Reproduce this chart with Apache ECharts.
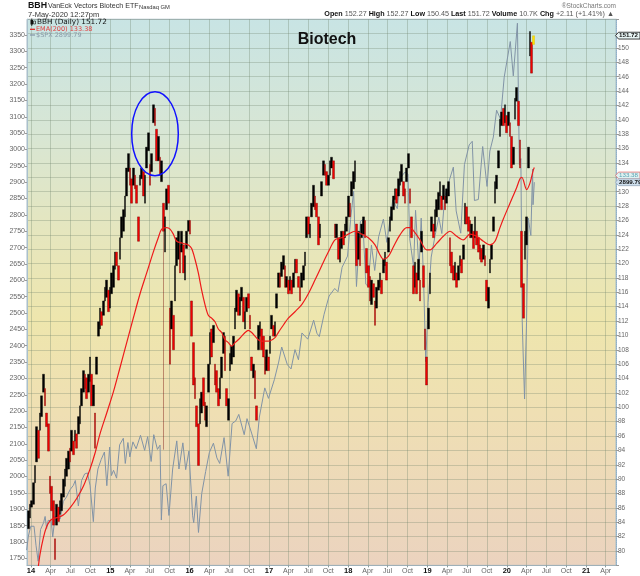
<!DOCTYPE html>
<html><head><meta charset="utf-8">
<script src="https://cdn.jsdelivr.net/npm/echarts@6/dist/echarts.min.js"></script>
<style>html,body{margin:0;padding:0;background:#fff}#c{width:640px;height:576px}</style>
</head><body><div id="c"></div>
<script>
// ---- BBH candles: one sample every ~7.7 days, starting mid-Dec 2013 (decimal years) ----
const bbhStart = 2013.966;
const bbhStep = 0.021017;
// [open, close] per sample
const bbhOpenClose = [
[83.1,85.6],[84.6,86.5],[86.1,87.0],[86.5,89.5],[89.5,91.9],[92.4,97.3],[96.8,92.9],[96.8,99.2],[98.7,101.6],[102.1,104.6],
[102.6,100.2],[99.2,97.3],[97.7,93.9],[90.4,88.0],[89.0,85.6],[87.0,83.6],[81.7,78.8],[83.6,86.5],[86.1,84.1],[85.1,87.0],
[85.6,88.0],[87.5,90.0],[89.0,91.4],[90.4,92.9],[91.4,93.9],[94.3,92.4],[93.9,96.8],[95.3,93.4],[95.3,96.8],[96.3,94.3],
[96.3,98.7],[97.7,100.2],[100.2,102.6],[102.1,105.1],[104.6,102.6],[104.1,101.2],[102.1,104.6],[103.6,107.0],[104.6,100.2],[100.2,103.1],
[99.2,94.3],[104.6,107.0],[109.9,111.9],[110.9,113.8],[113.3,111.4],[112.8,114.8],[114.8,116.7],[115.3,117.7],[116.3,113.3],[113.8,116.7],
[115.8,118.7],[116.7,119.7],[119.2,121.6],[121.6,119.7],[119.7,117.7],[120.6,123.6],[123.6,126.5],[124.5,127.5],[126.5,129.4],[129.4,133.3],
[132.8,135.3],[133.3,130.9],[131.8,128.4],[130.9,133.3],[132.3,130.4],[130.9,128.4],[126.5,123.1],[130.9,132.3],[131.8,133.3],[132.8,129.4],
[128.4,132.3],[133.3,136.2],[135.7,138.2],[133.8,130.9],[132.8,135.3],[139.6,142.1],[141.6,139.2],[138.7,134.3],[134.3,137.7],[134.8,132.3],
[131.4,134.3],[128.4,124.5],[121.6,126.5],[127.5,130.4],[130.9,128.4],[113.8,106.0],[110.9,114.8],[112.8,108.0],[114.8,119.7],[119.7,123.6],
[120.6,124.5],[122.6,118.7],[121.6,124.5],[122.6,118.7],[117.7,121.1],[122.1,124.5],[124.5,126.0],[126.0,124.1],[114.8,109.9],[109.0,103.1],
[104.1,101.2],[100.2,97.3],[97.7,91.9],
[97.7,101.2],[99.2,102.1],[104.1,100.2],[100.7,98.2],[97.3,100.2],[102.1,106.0],[106.0,110.4],[110.9,107.0],[109.0,111.4],[106.0,103.1],
[105.1,102.1],[102.6,100.2],[101.2,104.1],[104.1,107.0],[107.5,110.4],[109.9,105.1],[102.6,100.2],[98.2,101.2],[105.1,107.5],[106.0,108.5],
[107.0,109.9],[110.9,113.8],[113.3,116.3],[115.8,112.8],[112.8,115.3],[114.8,116.7],[115.3,111.9],[110.9,113.3],[113.3,115.3],[115.8,113.8],
[112.8,110.9],[107.0,105.1],[104.1,106.0],[105.1,101.2],[100.2,98.2],[108.0,111.4],[109.9,111.9],[110.9,108.0],[109.9,107.0],[107.0,104.6],
[105.1,108.0],[107.0,105.1],[107.5,109.9],[110.9,112.8],[111.4,109.9],[109.9,111.9],[113.8,115.8],[116.7,118.7],[118.7,116.7],[118.2,120.2],
[119.2,121.1],[119.7,116.7],[116.7,118.2],[117.7,115.8],[116.3,118.2],[117.7,115.8],[116.7,118.7],[118.7,120.6],[120.6,118.7],[118.2,116.7],
[116.7,114.8],[116.7,118.7],[117.7,119.7],[119.7,121.6],[123.6,126.5],[126.5,124.1],[123.6,125.5],[126.5,128.4],[127.9,130.9],[129.4,127.5],
[128.4,126.5],[126.5,122.6],[123.6,125.5],[129.4,131.4],[132.3,134.3],[133.8,132.3],[132.8,130.9],[130.9,132.3],[132.3,134.3],[133.3,134.8],
[134.3,131.8],[125.5,123.6],[123.6,125.5],[123.6,120.6],[120.2,123.6],[122.1,124.5],[124.5,122.6],[123.6,125.5],[124.5,126.5],[126.5,129.4],
[128.4,126.5],[129.4,131.4],[130.4,132.8],[131.4,134.3],[125.5,119.7],[120.6,124.5],[123.6,119.7],[123.6,125.5],[124.1,126.5],[126.0,123.6],
[122.1,118.7],[119.7,116.7],[118.2,114.8],[114.3,117.7],[117.2,115.3],
[114.8,111.4],[113.8,116.7],[116.3,117.7],[116.7,118.7],[117.7,115.8],[118.7,120.6],[119.7,121.6],[120.2,117.7],[121.6,123.6],[124.5,126.5],
[126.0,127.9],[127.5,129.4],[128.9,130.4],[130.4,128.4],[129.4,131.8],[130.9,132.8],[131.4,133.8],[131.4,129.4],[130.4,128.4],[131.4,133.3],
[133.3,135.3],[130.4,128.4],[126.5,123.6],[119.7,115.8],[116.7,120.2],[118.7,115.8],[117.7,120.6],[117.7,114.8],[121.6,124.5],[119.7,116.7],
[110.9,108.0],[107.0,103.1],[110.9,113.8],[115.8,118.7],[124.5,126.5],[125.5,123.6],[124.5,127.5],[126.5,128.9],[127.5,129.9],[129.4,131.4],
[129.4,127.5],[128.9,130.9],[129.4,127.5],[128.4,130.4],[129.4,131.4],[123.6,119.7],[121.6,118.7],[119.7,117.7],[117.7,120.2],[118.7,116.7],
[117.7,119.7],[119.7,121.1],[120.6,118.7],[120.6,122.6],[125.5,128.4],[127.9,125.5],[126.5,124.5],[126.0,123.6],[123.6,125.5],[124.5,122.1],
[123.6,126.5],[124.5,122.6],[123.6,121.6],[122.6,120.6],[122.1,120.2],[120.6,122.6],[121.1,119.7],[117.7,114.8],[113.8,116.7],[118.7,120.6],
[120.6,122.6],[124.5,126.5],[128.4,131.4],[130.4,132.3],[133.3,135.7],[137.7,140.1],[139.2,141.1],[141.6,139.2],[139.6,142.1],[140.6,138.2],
[139.2,141.1],[139.6,137.7],[137.7,133.3],[133.8,136.2],[140.1,143.0],[142.6,144.5],[142.6,139.2],[137.2,133.3],[124.5,116.7],[117.2,112.4],
[120.6,124.5],[122.6,126.5],[133.3,136.2],[148.9,152.3],[150.8,146.5],[150.5,151.7]
];
// bad print low (Aug 24 2015)
const bbhWickLow = {81: 94.1};

// ---- EMA(200) of BBH: [decimal year, value] ----
const emaPoints = [
[2013.966,73.5],[2014.063,75.5],[2014.092,77.8],[2014.113,79.5],[2014.155,81.8],[2014.198,83.4],[2014.240,84.2],[2014.281,84.5],[2014.344,84.7],[2014.407,85.0],
[2014.492,86.0],[2014.576,87.3],[2014.660,89.0],[2014.744,91.4],[2014.807,93.6],[2014.870,96.3],[2014.955,99.2],[2015.038,102.1],[2015.122,105.5],[2015.207,109.0],
[2015.290,112.4],[2015.375,115.8],[2015.459,118.7],[2015.542,121.6],[2015.605,123.6],[2015.648,124.8],[2015.711,125.0],[2015.753,124.8],[2015.795,124.1],[2015.837,123.1],
[2015.921,122.8],[2015.984,122.6],[2016.026,122.1],[2016.068,120.6],[2016.110,118.7],[2016.152,116.3],[2016.194,114.3],[2016.236,112.8],[2016.278,112.4],[2016.320,111.9],
[2016.362,110.9],[2016.404,110.4],[2016.446,109.4],[2016.488,109.0],[2016.530,108.5],[2016.573,109.0],[2016.614,109.4],[2016.657,109.9],[2016.699,110.4],[2016.740,110.7],
[2016.783,110.4],[2016.825,109.9],[2016.866,109.4],[2016.909,109.2],[2016.992,109.2],[2017.077,109.7],[2017.118,110.4],[2017.161,111.1],[2017.245,112.4],[2017.329,113.3],
[2017.414,114.3],[2017.497,115.8],[2017.581,117.7],[2017.666,119.7],[2017.749,121.6],[2017.833,123.3],[2017.918,123.6],[2018.001,124.1],[2018.086,124.5],[2018.170,124.1],
[2018.254,123.6],[2018.338,122.6],[2018.401,121.2],[2018.443,120.6],[2018.506,121.0],[2018.569,122.3],[2018.653,124.0],[2018.738,125.0],[2018.779,125.0],[2018.842,124.3],
[2018.905,123.3],[2018.990,121.9],[2019.032,121.9],[2019.116,122.8],[2019.199,123.8],[2019.284,124.5],[2019.368,123.8],[2019.451,123.3],[2019.536,124.1],[2019.620,123.8],
[2019.704,123.1],[2019.788,122.6],[2019.851,123.1],[2019.914,125.0],[2019.956,126.2],[2020.040,128.4],[2020.125,130.6],[2020.166,131.8],[2020.190,132.0],[2020.250,130.3],
[2020.292,131.2],[2020.334,133.0],[2020.347,133.38]
];

// ---- $SPX comparison line: [date, value] ----
const spxPoints = [
['2013-12-12',1775],['2013-12-20',1818],['2013-12-31',1848],['2014-01-15',1848],['2014-01-24',1790],['2014-02-03',1741],['2014-02-14',1838],['2014-02-28',1859],['2014-03-07',1878],['2014-03-14',1841],
['2014-03-21',1866],['2014-04-04',1865],['2014-04-11',1815],['2014-04-22',1879],['2014-05-01',1883],['2014-05-15',1870],['2014-05-30',1924],['2014-06-13',1937],['2014-06-30',1960],['2014-07-15',1973],
['2014-07-24',1988],['2014-08-07',1910],['2014-08-22',1988],['2014-09-05',2008],['2014-09-18',2011],['2014-09-30',1972],['2014-10-15',1862],['2014-10-24',1965],['2014-11-05',2023],['2014-11-20',2052],
['2014-12-05',2075],['2014-12-16',1972],['2014-12-29',2090],['2015-01-06',2003],['2015-01-16',2019],['2015-01-30',1995],['2015-02-13',2097],['2015-03-02',2117],['2015-03-11',2040],['2015-03-23',2104],
['2015-04-01',2060],['2015-04-15',2106],['2015-04-30',2085],['2015-05-20',2126],['2015-06-08',2080],['2015-06-22',2122],['2015-07-08',2046],['2015-07-20',2128],['2015-08-06',2083],['2015-08-18',2096],
['2015-08-24',1867],['2015-08-31',1972],['2015-09-15',1978],['2015-09-28',1881],['2015-10-15',2023],['2015-11-03',2109],['2015-11-13',2023],['2015-12-01',2103],['2015-12-14',2021],['2015-12-29',2078],
['2016-01-15',1880],['2016-01-20',1859],['2016-02-01',1940],['2016-02-11',1829],['2016-02-26',1948],['2016-03-15',2015],['2016-04-01',2073],['2016-04-20',2102],['2016-05-06',2057],['2016-05-19',2040],
['2016-06-08',2119],['2016-06-27',2001],['2016-07-15',2162],['2016-08-01',2170],['2016-08-15',2190],['2016-09-09',2128],['2016-09-22',2177],['2016-10-13',2133],['2016-11-04',2085],['2016-11-18',2182],
['2016-12-13',2271],['2016-12-30',2239],['2017-01-26',2296],['2017-02-15',2350],['2017-03-01',2396],['2017-03-27',2342],['2017-04-13',2329],['2017-05-01',2388],['2017-05-17',2357],['2017-06-02',2439],
['2017-06-29',2420],['2017-07-26',2478],['2017-08-10',2438],['2017-08-21',2428],['2017-09-12',2496],['2017-10-05',2552],['2017-10-31',2575],['2017-11-15',2565],['2017-12-04',2640],['2017-12-29',2674],
['2018-01-12',2786],['2018-01-26',2873],['2018-02-08',2581],['2018-02-26',2780],['2018-03-09',2786],['2018-03-23',2588],['2018-04-02',2582],['2018-04-18',2708],['2018-05-03',2630],['2018-05-21',2733],
['2018-06-12',2787],['2018-06-28',2716],['2018-07-25',2846],['2018-08-15',2819],['2018-08-29',2914],['2018-09-20',2931],['2018-10-03',2925],['2018-10-11',2728],['2018-10-29',2641],['2018-11-07',2814],
['2018-11-23',2633],['2018-12-03',2790],['2018-12-14',2600],['2018-12-24',2351],['2019-01-04',2532],['2019-01-18',2671],['2019-02-05',2737],['2019-02-22',2793],['2019-03-08',2743],['2019-03-21',2854],
['2019-04-12',2907],['2019-04-30',2946],['2019-05-13',2812],['2019-06-03',2744],['2019-06-20',2954],['2019-07-12',3014],['2019-07-26',3025],['2019-08-05',2844],['2019-08-23',2847],['2019-09-12',3009],
['2019-10-02',2887],['2019-10-15',2995],['2019-10-31',3038],['2019-11-15',3120],['2019-12-03',3093],['2019-12-20',3221],['2020-01-17',3330],['2020-01-31',3225],['2020-02-19',3386],['2020-02-28',2954],
['2020-03-06',2972],['2020-03-12',2481],['2020-03-16',2386],['2020-03-23',2237],['2020-04-01',2470],['2020-04-09',2790],['2020-04-21',2737],['2020-04-29',2940],['2020-05-01',2831],['2020-05-07',2900]
];

// ---- tick labels ----
const spxTicks = [1750,1800,1850,1900,1950,2000,2050,2100,2150,2200,2250,2300,2350,2400,2450,2500,2550,2600,2650,2700,2750,2800,2850,2900,2950,3000,3050,3100,3150,3200,3250,3300,3350];
const quarterTicks = [2014,2014.247,2014.496,2014.748,2015,2015.247,2015.496,2015.748,2016,2016.249,2016.497,2016.749,2017,2017.247,2017.496,2017.748,2018,2018.247,2018.496,2018.748,2019,2019.247,2019.496,2019.748,2020,2020.249,2020.497,2020.749,2021,2021.247];
const quarterLabels = ['14','Apr','Jul','Oct','15','Apr','Jul','Oct','16','Apr','Jul','Oct','17','Apr','Jul','Oct','18','Apr','Jul','Oct','19','Apr','Jul','Oct','20','Apr','Jul','Oct','21','Apr'];

function yf(s){const d=Date.parse(s+'T00:00:00Z');const y=+s.slice(0,4);const a=Date.UTC(y,0,1),b=Date.UTC(y+1,0,1);return y+(d-a)/(b-a);}

const candles = bbhOpenClose.map((p,i)=>{
  const o=p[0],c=p[1];
  let lo=Math.min(o,c),hi=Math.max(o,c);
  if(bbhWickLow[i]!=null) lo=bbhWickLow[i];
  const item={value:[bbhStart+i*bbhStep,o,c,lo,hi]};
  if(i===bbhOpenClose.length-1) item.itemStyle={color:'#ffe000',color0:'#ffe000',borderColor:'#d8b800',borderColor0:'#d8b800'};
  return item;
});
const spxData = spxPoints.map(p=>[yf(p[0]),p[1]]);

const F='"Liberation Sans", Arial, sans-serif';
const FV='"DejaVu Sans", Verdana, sans-serif';

const chart = echarts.init(document.getElementById('c'), null, {width:640,height:576});
const option = {
  animation:false,
  backgroundColor:'#ffffff',
  grid:{left:27,right:24,top:19.26,bottom:10.63,show:true,borderColor:'#a9bcc6',borderWidth:1,
    backgroundColor:new echarts.graphic.LinearGradient(0,0,0,1,[
      {offset:0,color:'#c8e4e4'},{offset:0.2,color:'#d7e6d5'},{offset:0.4,color:'#e6e6bd'},
      {offset:0.55,color:'#eee6ad'},{offset:0.72,color:'#efdfb3'},{offset:1,color:'#ebd3bf'}])},
  xAxis:{type:'value',min:2013.9496,max:2021.377,
    axisLine:{show:true,lineStyle:{color:'#9fb0b8'}},
    axisTick:{show:true,length:2,customValues:quarterTicks,lineStyle:{color:'#8a9a9a'}},
    axisLabel:{customValues:quarterTicks,margin:2,fontFamily:F,
      formatter:v=>{let k=0,b=1e9;quarterTicks.forEach((t,i)=>{const d=Math.abs(t-v);if(d<b){b=d;k=i;}});
        const s=quarterLabels[k];return /^\d/.test(s)?'{y|'+s+'}':'{m|'+s+'}';},
      rich:{y:{fontSize:7.5,fontWeight:'bold',color:'#111',fontFamily:F},m:{fontSize:7,color:'#666',fontFamily:F}}},
    splitLine:{show:true,lineStyle:{color:'rgba(110,130,105,0.32)',width:1}}},
  yAxis:[
    {type:'value',position:'right',min:78,max:154,interval:2,
     axisLine:{show:true,lineStyle:{color:'#8fb0c8',type:'dotted'}},
     axisTick:{show:true,length:3,lineStyle:{color:'#999'}},
     axisLabel:{fontSize:6.5,color:'#666',margin:2,fontFamily:F,formatter:v=>(v<80||v>150)?'':String(v)},
     splitLine:{show:true,lineStyle:{color:'rgba(110,130,105,0.3)',width:1}}},
    {type:'value',position:'left',min:1728.4,max:3398.1,
     axisLine:{show:true,lineStyle:{color:'#a9c0cc'}},
     axisTick:{show:true,length:2,customValues:spxTicks,lineStyle:{color:'#999'}},
     axisLabel:{customValues:spxTicks,fontSize:7,color:'#666',margin:2,fontFamily:F,formatter:v=>String(Math.round(v))},
     splitLine:{show:false}}
  ],
  series:[
    {type:'line',name:'$SPX',yAxisIndex:1,data:spxData,symbol:'none',z:1,
     lineStyle:{color:'#8193a6',width:1}},
    {type:'candlestick',name:'BBH',yAxisIndex:0,data:candles,barWidth:2.3,z:2,
     encode:{x:0,y:[1,2,3,4]},
     itemStyle:{color:'#000',color0:'#f00000',borderColor:'#000',borderColor0:'#700000',borderWidth:0.4}},
    {type:'line',name:'EMA(200)',yAxisIndex:0,data:emaPoints,symbol:'none',smooth:0.3,z:3,
     lineStyle:{color:'#ee1a1a',width:1.2}}
  ]
};
chart.setOption(option);

const yBBH = chart.convertToPixel({yAxisIndex:0},151.72);
const ySPX = chart.convertToPixel({yAxisIndex:1},2899.79);
const yEMA = 175.5;
function tag(cy,txt,fill,stroke,color,bold){
  return [
    {type:'polygon',shape:{points:[[615.5,cy],[618.5,cy-3.4],[640,cy-3.4],[640,cy+3.4],[618.5,cy+3.4]]},
     style:{fill:fill,stroke:stroke,lineWidth:0.8},z:20},
    {type:'text',x:619,y:cy,style:{text:txt,font:(bold?'bold ':'')+'6.2px '+F,fill:color,verticalAlign:'middle',textVerticalAlign:'middle'},z:21}
  ];
}
chart.setOption({graphic:[
  {type:'text',x:28,y:1.5,style:{text:'BBH',font:'bold 8.8px '+F,fill:'#111'}},
  {type:'text',x:48,y:2.5,style:{text:'VanEck Vectors Biotech ETF',font:'7.1px '+F,fill:'#333'}},
  {type:'text',x:139,y:4,style:{text:'Nasdaq GM',font:'5.8px '+F,fill:'#333'}},
  {type:'text',x:28,y:10.5,style:{text:'7-May-2020 12:27pm',font:'7.5px '+F,fill:'#333'}},
  {type:'text',x:616,y:2.5,style:{text:'\u00AEStockCharts.com',font:'6.5px '+F,fill:'#777',align:'right',textAlign:'right'}},
  {type:'text',x:614,y:10.5,style:{text:'{b|Open} 152.27 {b|High} 152.27 {b|Low} 150.45 {b|Last} 151.72 {b|Volume} 10.7K {b|Chg} +2.11 (+1.41%) \u25B2',
    font:'7.2px '+F,fill:'#555',align:'right',textAlign:'right',rich:{b:{font:'bold 7.2px '+F,fill:'#111'}}}},
  {type:'rect',shape:{x:30.5,y:20,width:2.5,height:4.5},style:{fill:'#111'},z:20},
  {type:'line',shape:{x1:31.75,y1:18.5,x2:31.75,y2:26},style:{stroke:'#111',lineWidth:0.8},z:20},
  {type:'rect',shape:{x:33.5,y:21,width:2,height:3},style:{fill:'none',stroke:'#111',lineWidth:0.6},z:20},
  {type:'text',x:37,y:19,style:{text:'BBH (Daily) 151.72',font:'7.3px '+FV,fill:'#111'},z:20},
  {type:'line',shape:{x1:30,y1:29.3,x2:35,y2:29.3},style:{stroke:'#e01a1a',lineWidth:1.2},z:20},
  {type:'text',x:36,y:26,style:{text:'EMA(200) 133.38',font:'6.5px '+FV,fill:'#e04040'},z:20},
  {type:'line',shape:{x1:30,y1:35,x2:35,y2:35},style:{stroke:'#8193a6',lineWidth:1.2},z:20},
  {type:'text',x:36,y:31.7,style:{text:'$SPX 2899.79',font:'6.5px '+FV,fill:'#8a9aa8'},z:20},
  {type:'text',x:327,y:40,style:{text:'Biotech',font:'bold 16px '+F,fill:'#111',align:'center',textAlign:'center',verticalAlign:'middle',textVerticalAlign:'middle'},z:20},
  {type:'ellipse',shape:{cx:155,cy:133.7,rx:23.3,ry:42},style:{fill:'none',stroke:'#1010ff',lineWidth:1.5},z:30},
  ...tag(yBBH,'151.72','#e8f4f4','#111','#111',true),
  ...tag(yEMA,'133.38','#dff2f2','#e07070','#5aa0b0',false),
  ...tag(ySPX,'2899.79','#cfe0ee','#9ab','#111',true)
]});
</script>
</body></html>
